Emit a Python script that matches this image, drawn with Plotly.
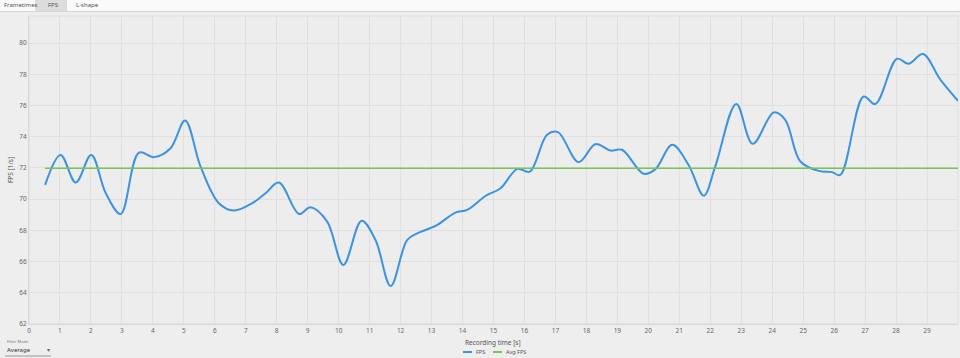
import plotly.graph_objects as go

time_s = [0.52, 1.02, 1.51, 2.01, 2.48, 2.96, 3.55, 4.04, 4.57, 5.04, 5.54, 6.13, 6.62, 7.21, 7.64,
          8.07, 8.72, 9.09, 9.63, 10.15, 10.74, 11.19, 11.68, 12.21, 12.54, 13.13, 13.77, 14.15,
          14.74, 15.23, 15.77, 16.17, 16.73, 17.08, 17.75, 18.29, 18.78, 19.15, 19.85, 20.23,
          20.77, 21.3, 21.79, 22.16, 22.84, 23.37, 24.05, 24.42, 24.91, 25.5, 25.93, 26.2,
          26.95, 27.33, 28.03, 28.4, 28.87, 29.43, 30.0]
fps = [70.91, 72.83, 71.06, 72.83, 70.38, 69.05, 72.98, 72.69, 73.26, 75.04, 72.08, 69.74, 69.27,
       69.74, 70.38, 71.06, 69.05, 69.48, 68.56, 65.78, 68.62, 67.38, 64.43, 67.38, 67.81, 68.28,
       69.13, 69.31, 70.2, 70.7, 71.94, 71.76, 74.12, 74.29, 72.37, 73.52, 73.11, 73.16, 71.62,
       71.92, 73.48, 72.19, 70.22, 72.08, 76.1, 73.54, 75.55, 75.08, 72.41, 71.81, 71.73, 71.55,
       76.57, 76.09, 78.99, 78.67, 79.29, 77.65, 76.3]
avg_fps = 71.98
x_ticks = list(range(0, 30))
y_ticks = list(range(62, 81, 2))
tabs = ["Frametimes", "FPS", "L-shape"]
legend_names = ["FPS", "Avg FPS"]

BLUE = "#3c94e0"
GREEN = "#79c45a"
FONT = "Noto Sans"

W, H = 960, 358
L, R, T, B = 29, 2, 16, 34
PW, PH = W - L - R, H - T - B

def px(xp):
    return (xp - L) / PW

def py(yp):
    return (H - B - yp) / PH

fig = go.Figure()
fig.add_trace(go.Scatter(x=time_s, y=fps, mode="lines", name=legend_names[0],
                         line=dict(color=BLUE, width=2, shape="spline", smoothing=1.0),
                         showlegend=False, hoverinfo="skip"))
fig.add_trace(go.Scatter(x=[time_s[0], time_s[-1]], y=[avg_fps, avg_fps], mode="lines",
                         name=legend_names[1], line=dict(color=GREEN, width=1.4),
                         showlegend=False, hoverinfo="skip"))

shapes = []
annotations = []
# tab bar
shapes.append(dict(type="rect", xref="paper", yref="paper", x0=px(0), x1=px(W), y0=py(11), y1=py(0),
                   fillcolor="#fafafa", line=dict(width=0), layer="below"))
shapes.append(dict(type="rect", xref="paper", yref="paper", x0=px(35), x1=px(67), y0=py(11), y1=py(0),
                   fillcolor="#dcdcdc", line=dict(width=0), layer="below"))
shapes.append(dict(type="line", xref="paper", yref="paper", x0=px(0), x1=px(W), y0=py(11.5), y1=py(11.5),
                   line=dict(color="#d6d6d6", width=1)))
tab_x = [2, 46, 74]
for name, xx in zip(tabs, tab_x):
    annotations.append(dict(text=name, xref="paper", yref="paper", x=px(xx), y=py(5.5),
                            showarrow=False, xanchor="left", yanchor="middle",
                            font=dict(family=FONT, size=6, color="#555555")))
# axis titles
annotations.append(dict(text="FPS [1/s]", xref="paper", yref="paper", x=px(10), y=py(170),
                        showarrow=False, textangle=-90, xanchor="center", yanchor="middle",
                        font=dict(family=FONT, size=6.5, color="#555555")))
annotations.append(dict(text="Recording time [s]", xref="paper", yref="paper", x=px(493), y=py(342),
                        showarrow=False, xanchor="center", yanchor="middle",
                        font=dict(family=FONT, size=6.5, color="#555555")))
# legend
leg = [(463, 472, 474, legend_names[0], BLUE), (493, 502, 504, legend_names[1], GREEN)]
for x0, x1, xt, name, col in leg:
    shapes.append(dict(type="line", xref="paper", yref="paper", x0=px(x0), x1=px(x1),
                       y0=py(352), y1=py(352), line=dict(color=col, width=2)))
    annotations.append(dict(text=name, xref="paper", yref="paper", x=px(xt), y=py(352),
                            showarrow=False, xanchor="left", yanchor="middle",
                            font=dict(family=FONT, size=5.5, color="#555555")))
# filter mode
annotations.append(dict(text="Filter Mode", xref="paper", yref="paper", x=px(5), y=py(341),
                        showarrow=False, xanchor="left", yanchor="middle",
                        font=dict(family=FONT, size=4, color="#777777")))
annotations.append(dict(text="Average", xref="paper", yref="paper", x=px(5), y=py(349.5),
                        showarrow=False, xanchor="left", yanchor="middle",
                        font=dict(family=FONT, size=6, color="#333333")))
annotations.append(dict(text="▾", xref="paper", yref="paper", x=px(48.5), y=py(349.5),
                        showarrow=False, xanchor="center", yanchor="middle",
                        font=dict(family=FONT, size=6, color="#666666")))
shapes.append(dict(type="line", xref="paper", yref="paper", x0=px(5), x1=px(51),
                   y0=py(356), y1=py(356), line=dict(color="#999999", width=1)))
# plot border
shapes.append(dict(type="rect", xref="paper", yref="paper", x0=0, x1=1, y0=0, y1=1,
                   line=dict(color="#dedede", width=1), layer="below"))

fig.update_layout(
    width=W, height=H,
    margin=dict(l=L, r=R, t=T, b=B, pad=0),
    paper_bgcolor="#eeeeee",
    plot_bgcolor="#ededed",
    showlegend=False,
    shapes=shapes,
    annotations=annotations,
    font=dict(family=FONT, size=7, color="#666666"),
    xaxis=dict(range=[0, 30], tickvals=x_ticks, showgrid=True, gridcolor="#e0e0e0", gridwidth=1,
               zeroline=False, showline=True, linecolor="#d8d8d8", ticks="", ticklen=0,
               tickfont=dict(family=FONT, size=6.5, color="#666666")),
    yaxis=dict(range=[62, 81.73], tickvals=y_ticks, showgrid=True, gridcolor="#e0e0e0", gridwidth=1,
               zeroline=False, showline=True, linecolor="#d8d8d8", ticks="", ticklen=0,
               tickfont=dict(family=FONT, size=6.5, color="#666666")),
)

fig.write_html("out.html", config={"displayModeBar": False, "staticPlot": True})
with open("out.html", "r", encoding="utf-8") as f:
    html = f.read()
html = html.replace("<head>", "<head><style>html,body{margin:0;padding:0;overflow:hidden;background:#eeeeee;}</style>", 1)
with open("out.html", "w", encoding="utf-8") as f:
    f.write(html)
